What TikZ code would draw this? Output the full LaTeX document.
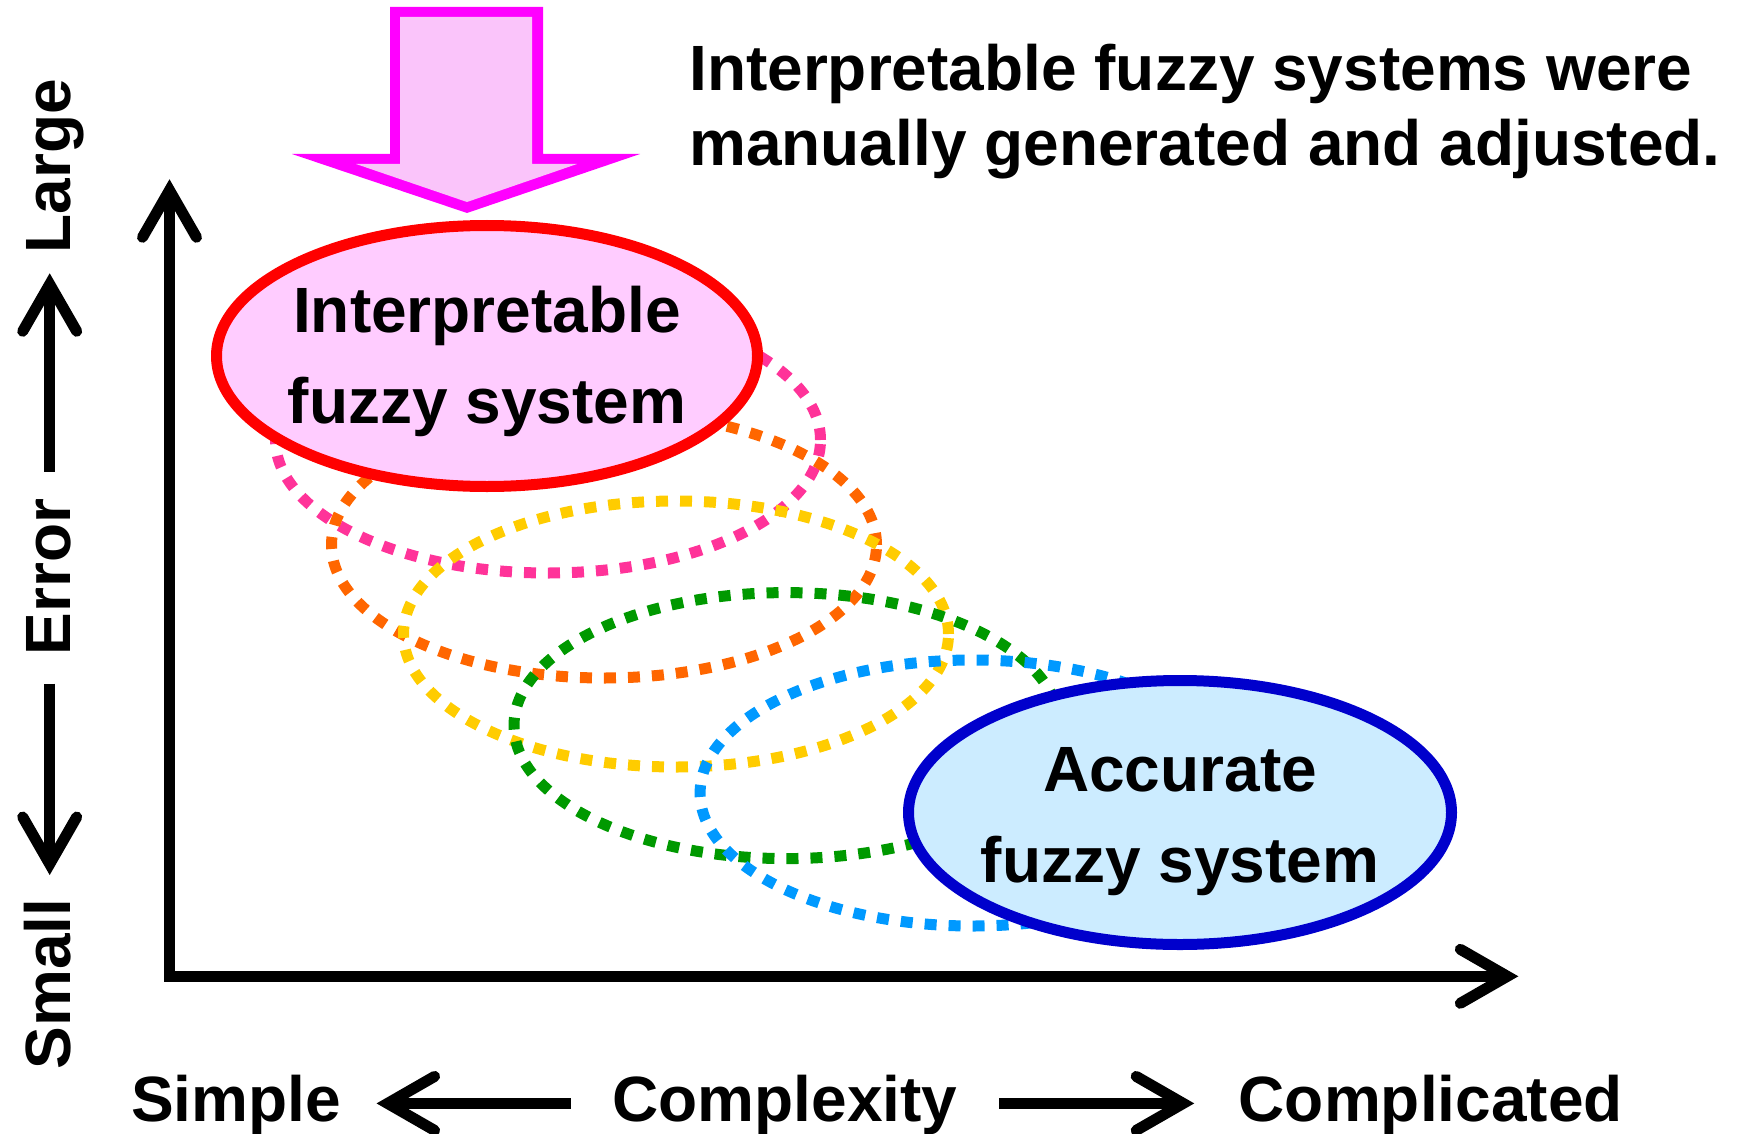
\documentclass[tikz,border=0pt]{standalone}
\usepackage{fontspec}
\setmainfont{Liberation Sans}
\usetikzlibrary{shapes.geometric}
\definecolor{magentaA}{RGB}{255,0,255}
\definecolor{arrowfill}{RGB}{250,196,250}
\definecolor{redfill}{RGB}{255,204,255}
\definecolor{bluefill}{RGB}{204,236,255}
\definecolor{blueline}{RGB}{0,0,204}
\definecolor{dotpink}{RGB}{255,51,153}
\definecolor{dotorange}{RGB}{255,102,0}
\definecolor{dotyellow}{RGB}{255,204,0}
\definecolor{dotgreen}{RGB}{0,153,0}
\definecolor{dotblue}{RGB}{0,153,255}
\begin{document}
\begin{tikzpicture}[x=1pt,y=-1pt]
\useasboundingbox (0,0) rectangle (1737,1134);
\tikzset{
  txt/.style={font=\fontsize{64}{75}\selectfont\bfseries, inner sep=0pt},
  elltxt/.style={font=\fontsize{64}{91}\selectfont\bfseries, inner sep=0pt, align=center},
  dotell/.style={ellipse, draw, line width=11pt, dash pattern=on 12pt off 12pt, minimum width=545pt, minimum height=266pt, inner sep=0pt},
  mainell/.style={ellipse, draw, line width=11pt, inner sep=0pt},
  axisline/.style={line width=11pt, line cap=butt, line join=miter},
  chevron/.pic={\draw[line width=11pt, line cap=round, line join=miter] (-47,-27) -- (0,0) -- (-47,27);},
}
% block arrow
\fill[magentaA] (390,7) -- (543,7) -- (543,154) -- (640,154) -- (467,213) -- (292,154) -- (390,154) -- cycle;
\fill[arrowfill] (400,17) -- (532,17) -- (532,164) -- (577,164) -- (467,202) -- (356,164) -- (400,164) -- cycle;
% axes
\coordinate (O) at (169.5,976.3);
\coordinate (Ytip) at (169.5,190.3);
\coordinate (Xtip) at (1507.3,976.3);
\draw[axisline] (Ytip) -- (O) -- (Xtip);
\pic[rotate=90] at (Ytip) {chevron};
\pic at (Xtip) {chevron};
% dotted ellipses
\node[dotell, draw=dotpink] (d1) at (548,440) {};
\node[dotell, draw=dotorange] (d2) at (604,545) {};
\node[dotell, draw=dotyellow] (d3) at (676,634) {};
\node[dotell, draw=dotgreen] (d4) at (786.5,725.6) {};
\node[dotell, draw=dotblue] (d5) at (972.6,793) {};
% main ellipses
\node[mainell, draw=red, fill=redfill, minimum width=541pt, minimum height=261pt] (interp) at (487,356) {};
\node[elltxt, anchor=base] (interpT) at (487,423) {Interpretable\\fuzzy system};
\node[mainell, draw=blueline, fill=bluefill, minimum width=543pt, minimum height=264pt] (accur) at (1180,812.5) {};
\node[elltxt, anchor=base] (accurT) at (1180,882) {Accurate\\fuzzy system};
% note
\node[txt, anchor=base west, align=left] (note) at (689,166) {Interpretable fuzzy systems were\\manually generated and adjusted.};
% bottom labels
\node[txt, anchor=base west] (simple) at (131,1121) {Simple};
\node[txt, anchor=base] (complexity) at (785,1121) {Complexity};
\node[txt, anchor=base west] (complicated) at (1238.5,1121) {Complicated};
\coordinate (la1) at (570.5,1103.4);
\coordinate (la2) at (387.6,1103.4);
\coordinate (ra1) at (999.2,1103.4);
\coordinate (ra2) at (1183.2,1103.4);
\draw[axisline] (la1) -- (la2);
\pic[rotate=180] at (la2) {chevron};
\draw[axisline] (ra1) -- (ra2);
\pic at (ra2) {chevron};
% left labels
\node[txt, rotate=90, anchor=base] (large) at (70,166) {Large};
\node[txt, rotate=90, anchor=base] (error) at (70,577) {Error};
\node[txt, rotate=90, anchor=base] (small) at (70,984) {Small};
\coordinate (ua1) at (49.7,471.7);
\coordinate (ua2) at (49.7,284.3);
\coordinate (da1) at (49.7,683.5);
\coordinate (da2) at (49.7,864);
\draw[axisline] (ua1) -- (ua2);
\pic[rotate=90] at (ua2) {chevron};
\draw[axisline] (da1) -- (da2);
\pic[rotate=-90] at (da2) {chevron};
\end{tikzpicture}
\end{document}
